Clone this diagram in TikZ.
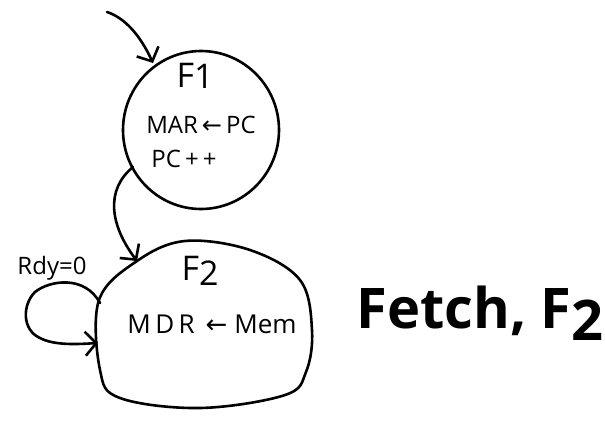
\documentclass[tikz,border=0pt]{standalone}
\usepackage{fontspec}
\setmainfont{Open Sans}
\newfontfamily\symfont{DejaVu Sans}
\usetikzlibrary{arrows.meta,shapes.geometric}
\tikzset{
  stroke/.style={line width=2.6pt, line cap=round, line join=round},
  arr/.style={stroke, -{Straight Barb[length=11pt,width=24pt,line width=2.6pt]}},
  lbl/.style={inner sep=0pt, font=\fontsize{24}{26}\selectfont},
}
\begin{document}
\begin{tikzpicture}[x=1pt,y=-1pt]
\useasboundingbox (0,0) rectangle (605,424);
% F1 state
\node[ellipse, draw, stroke, minimum width=156pt, minimum height=158pt] (f1) at (201,130) {};
\node[lbl, font=\fontsize{34}{36}\selectfont] (f1t) at (195,76) {F\raisebox{-1pt}{1}};
\node[lbl] (f1a) at (201,125) {MAR\,{\symfont ←}\,PC};
\node[lbl] (f1b) at (184,159) {PC\,+\,+};
% F2 state (blob)
\draw[stroke] plot[smooth cycle, tension=0.6] coordinates {(99,300) (137,261) (185,241) (250,250) (300,280) (312,330) (306,372) (285,395) (200,408) (120,398) (100,370)};
\coordinate (f2in) at (137,261);
\coordinate (f2loopA) at (100,303);
\coordinate (f2loopB) at (98,343);
\node[lbl, font=\fontsize{34}{36}\selectfont] (f2t) at (200,271) {F\raisebox{-5pt}{2}};
\node[lbl, font=\fontsize{26}{28}\selectfont] (f2a) at (212,324) {M\,D\,R\, {\symfont ←} Mem};
% connectors
\coordinate (start) at (107,12);
\coordinate (f1in) at (153,63);
\coordinate (f1out) at (133,167);
\draw[arr] (start) .. controls (125,18) and (140,35) .. (f1in);
\draw[arr] (f1out) .. controls (105,190) and (110,225) .. (f2in);
\draw[arr] (f2loopA) .. controls (85,275) and (50,280) .. (35,292) .. controls (22,305) and (22,330) .. (40,338) .. controls (55,346) and (80,344) .. (f2loopB);
\node[lbl] (rdy) at (52,268) {Rdy=0};
% title
\node[inner sep=0pt, font=\fontsize{56}{60}\selectfont\bfseries] (title) at (480,313) {Fetch, F\raisebox{-12pt}{2}};
\end{tikzpicture}
\end{document}
